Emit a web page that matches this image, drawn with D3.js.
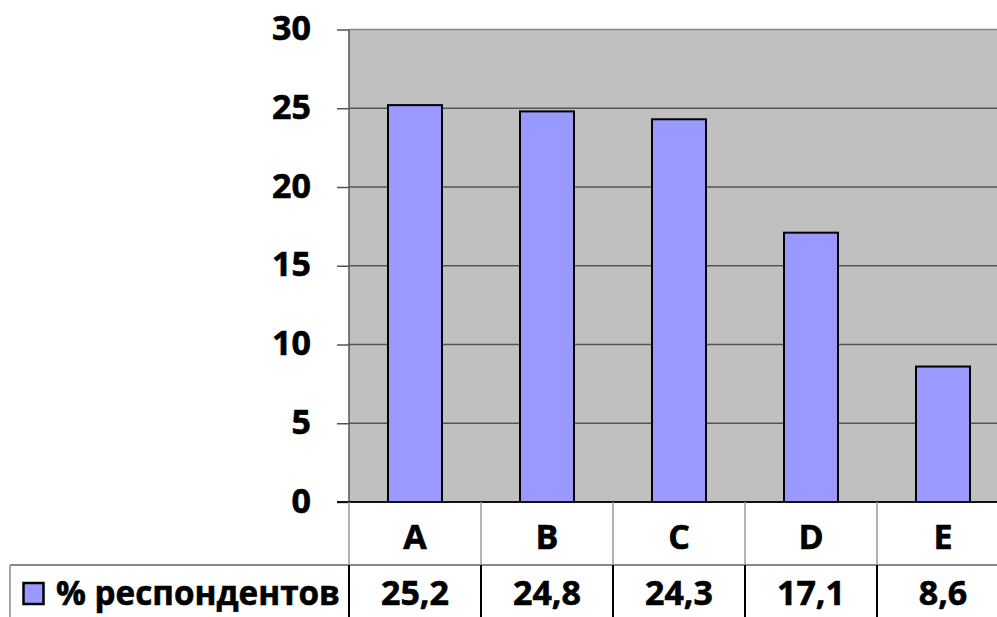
<!DOCTYPE html>
<html><head><meta charset="utf-8">
<script src="https://cdn.jsdelivr.net/npm/d3@7"></script>
<style>body{margin:0;background:#fff;overflow:hidden}svg{display:block}
text{stroke:#000;stroke-width:0.6px;fill:#000}</style>
</head><body>
<svg id="c" width="997" height="617"></svg>
<script>
const categories = ["A","B","C","D","E"];
const values = [25.2, 24.8, 24.3, 17.1, 8.6];
const valueLabels = ["25,2","24,8","24,3","17,1","8,6"];
const yTicks = [0,5,10,15,20,25,30];
const seriesName = "% респондентов";

const svg = d3.select("#c");
const font = "'Open Sans', 'DejaVu Sans', sans-serif";
const plotLeft = 349, plotRight = 1009, plotTop = 29.5, zero = 502;
const row1 = 565, tableBottom = 617;

const x = d3.scaleBand().domain(categories).range([plotLeft, plotRight]).paddingInner(0).paddingOuter(0);
const y = d3.scaleLinear().domain([0, 30]).range([zero, plotTop]);

// plot background
svg.append("rect").attr("x", plotLeft).attr("y", y(30)).attr("width", plotRight-plotLeft).attr("height", zero-y(30)).attr("fill", "#c0c0c0");

// gridlines
svg.append("g").selectAll("line").data(yTicks.filter(d=>d>0)).join("line")
  .attr("x1", plotLeft).attr("x2", plotRight)
  .attr("y1", d=>y(d)).attr("y2", d=>y(d))
  .attr("stroke", d=> d===30 ? "#888" : "#555").attr("stroke-width", 1.5);

// bars
const bw = 54;
svg.append("g").selectAll("rect").data(values).join("rect")
  .attr("x", (d,i)=>x(categories[i]) + x.bandwidth()/2 - bw/2)
  .attr("y", d=>y(d))
  .attr("width", bw)
  .attr("height", d=>zero - y(d))
  .attr("fill", "#9999ff").attr("stroke", "#000").attr("stroke-width", 2);

// y axis
const yAxis = d3.axisLeft(y).tickValues(yTicks).tickSize(12).tickPadding(26).tickFormat(d3.format("d"));
const ga = svg.append("g").attr("transform", `translate(${plotLeft},0)`).call(yAxis);
ga.select(".domain").remove();
ga.selectAll(".tick line").attr("stroke", "#555").attr("stroke-width", 1.5);
ga.selectAll(".tick text").attr("font-family", font).attr("font-weight", "bold").attr("font-size", 34).attr("fill", "#000").attr("dy", "0.3em");
svg.append("line").attr("x1", plotLeft).attr("x2", plotLeft).attr("y1", y(30)).attr("y2", zero).attr("stroke", "#555").attr("stroke-width", 1.5);

// data table lines
svg.append("line").attr("x1", 337).attr("x2", plotRight).attr("y1", zero).attr("y2", zero).attr("stroke", "#111").attr("stroke-width", 2);
svg.append("line").attr("x1", 10).attr("x2", plotRight).attr("y1", row1).attr("y2", row1).attr("stroke", "#888").attr("stroke-width", 2);
svg.append("line").attr("x1", 10).attr("x2", 10).attr("y1", row1).attr("y2", tableBottom).attr("stroke", "#888").attr("stroke-width", 1.5);

const bounds = categories.map(c=>x(c));
svg.append("g").selectAll("line").data(bounds).join("line")
  .attr("x1", d=>d).attr("x2", d=>d).attr("y1", zero).attr("y2", row1)
  .attr("stroke", "#999").attr("stroke-width", 1.5);
svg.append("g").selectAll("line").data(bounds).join("line")
  .attr("x1", d=>d).attr("x2", d=>d).attr("y1", row1).attr("y2", tableBottom)
  .attr("stroke", "#000").attr("stroke-width", 2);

// category labels
svg.append("g").selectAll("text").data(categories).join("text")
  .attr("x", d=>x(d)+x.bandwidth()/2).attr("y", 537).attr("dy", "0.35em")
  .attr("text-anchor", "middle").attr("font-family", font).attr("font-weight", "bold").attr("font-size", 34)
  .text(d=>d);

// value labels
svg.append("g").selectAll("text").data(valueLabels).join("text")
  .attr("x", (d,i)=>x(categories[i])+x.bandwidth()/2).attr("y", 593).attr("dy", "0.35em")
  .attr("text-anchor", "middle").attr("font-family", font).attr("font-weight", "bold").attr("font-size", 34)
  .text(d=>d);

// legend key
svg.append("rect").attr("x", 23.5).attr("y", 583).attr("width", 20).attr("height", 21)
  .attr("fill", "#9999ff").attr("stroke", "#000").attr("stroke-width", 2.5);
svg.append("text").attr("x", 56).attr("y", 593).attr("dy", "0.35em")
  .attr("font-family", font).attr("font-weight", "bold").attr("font-size", 34)
  .attr("textLength", 284).attr("lengthAdjust", "spacingAndGlyphs")
  .text(seriesName);
</script>
</body></html>
